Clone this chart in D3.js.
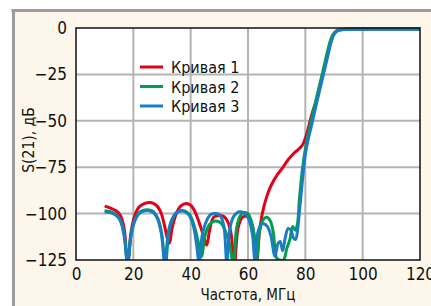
<!DOCTYPE html>
<html><head><meta charset="utf-8">
<script src="https://cdn.jsdelivr.net/npm/d3@7"></script>
<style>
body{margin:0;background:#fff;}
svg{display:block;}
text{font-family:"Liberation Sans Narrow","Arial Narrow","DejaVu Sans Condensed",sans-serif;fill:#111;}
</style></head>
<body><svg id="c" width="431" height="306"></svg>
<script>
const xTicks = [0, 20, 40, 60, 80, 100, 120];
const xTickLabels = ["0", "20", "40", "60", "80", "100", "120"];
const yTicks = [0, -25, -50, -75, -100, -125];
const yTickLabels = ["0", "\u221225", "\u221250", "\u221275", "\u2212100", "\u2212125"];
const seriesNames = ["Кривая 1", "Кривая 2", "Кривая 3"];
const seriesColors = ["#e2001a", "#00a04a", "#1a7cc4"];
const xLabel = "Частота, МГц";
const yLabel = "S(21), дБ";

const f1 = [10,12,14,15.5,16.8,18,19.2,20.5,22,24,26,28,29.5,30.8,31.8,32.6,33.5,35,36.5,38.5,40,41.5,43,44.5,45.6,46.6,48,50,51.5,52.8,54,55.3,56.5,58,59.5,60.8,62,63,64,65,66.5,68,70,72,74,76,77.5,79,80.5,82,83,84,86,88,89,90,91,92,95,100,110,120];
const s1 = [-96,-97,-98.5,-101,-108,-127,-110,-101,-96.5,-94.5,-94,-95.5,-99,-106,-113,-116,-108,-100,-96,-94.5,-95.5,-99,-105,-112,-117,-109,-102,-101,-101.5,-104,-110,-127,-108,-102,-101.5,-103.5,-111,-127,-110,-100,-91,-85,-79.5,-75.5,-71,-67.5,-65.5,-63,-57,-48,-43,-38.5,-26,-13,-7,-3,-1.4,-0.9,-0.6,-0.5,-0.5,-0.5];

const f2 = [10,12,14,15.5,16.8,18,19.2,20.5,22,24,25.5,27,28.5,29.8,31.2,32.4,33.7,35,37,38.5,40,41.5,42.6,43.8,45,46.5,48.5,50.5,52,53.5,54.9,56,57.2,58.5,60,61.5,62.3,63,64,65.2,66.5,67.8,68.8,70,71,72.4,73.5,74.6,75.6,76.5,77.2,78,79,80,81,82,84,86,88,89,90,91,92,95,100,110,120];
const s2 = [-98.5,-99,-100.5,-103.5,-111,-127,-111,-103.5,-99.5,-98,-98,-99,-102.5,-110,-127,-110,-103,-99.5,-98.5,-99,-101.5,-108,-115,-123,-112,-106,-104,-105,-109,-116,-127,-108,-101.5,-99.5,-100,-106,-113,-125,-110,-103.5,-102,-104,-110,-124,-125,-125,-119,-114,-107,-109,-106,-91,-76,-65,-57,-50,-37,-24,-11,-5.5,-2.8,-1.5,-1,-0.7,-0.6,-0.6,-0.6];

const f3 = [10,12,14,15.5,16.8,18,19.2,20.5,22,24,25.5,27,28.5,29.8,31,32.2,33.5,35,37,38,39.5,41,42,43,44,45.5,47,48.5,50,51.5,52.6,53.7,55,57,59,60.5,61.6,62.4,63.3,64.5,65.5,66.8,68,69.4,70.5,71.2,72.1,73,74,75,75.8,76.6,77.2,78,79,80,81,82,84,86,88,89,90,91,92,95,100,110,120];
const s3 = [-99,-99.5,-101,-104,-112,-127,-112,-104,-100,-98.5,-98.5,-99.5,-103,-111,-127,-110,-103,-99.5,-98.5,-99,-101,-107,-116,-127,-112,-104,-100.5,-100,-100.5,-106,-126,-108,-101.5,-99,-100,-104,-112,-125,-111,-106,-105.5,-107,-112,-123,-116,-115,-120,-113,-108,-109,-113,-114,-110,-98,-82,-68,-60,-53.5,-40,-27,-14,-7.5,-3.5,-1.8,-1.1,-0.8,-0.7,-0.7,-0.7];

const series = [
  {f: f1, s: s1},
  {f: f2, s: s2},
  {f: f3, s: s3}
];

const svg = d3.select("#c");
const W = 431, H = 306;
const m = {l: 76, t: 28, r: 420, b: 260};

// frame
svg.append("rect").attr("x", 13).attr("y", 10).attr("width", W - 13).attr("height", H - 10).attr("fill", "#fdf6ea");
svg.append("line").attr("x1", 11.5).attr("x2", W).attr("y1", 10.5).attr("y2", 10.5).attr("stroke", "#9c9c9c").attr("stroke-width", 3);
svg.append("line").attr("x1", 13.5).attr("x2", 13.5).attr("y1", 9).attr("y2", H).attr("stroke", "#9c9c9c").attr("stroke-width", 3);

const x = d3.scaleLinear().domain([0, 120]).range([m.l, m.r]);
const y = d3.scaleLinear().domain([-125, 0]).range([m.b, m.t]);

svg.append("rect").attr("x", m.l).attr("y", m.t).attr("width", m.r - m.l).attr("height", m.b - m.t).attr("fill", "#fff");

// grid
const g = svg.append("g");
g.selectAll("line.vx").data(xTicks.slice(1, -1)).join("line")
  .attr("x1", d => x(d)).attr("x2", d => x(d)).attr("y1", m.t).attr("y2", m.b)
  .attr("stroke", "#b4b4b4").attr("stroke-width", 2);
g.selectAll("line.hy").data(yTicks.slice(1, -1)).join("line")
  .attr("x1", m.l).attr("x2", m.r).attr("y1", d => y(d)).attr("y2", d => y(d))
  .attr("stroke", "#b4b4b4").attr("stroke-width", 2);

// axes labels
const xa = svg.append("g").attr("transform", `translate(0,${m.b})`)
  .call(d3.axisBottom(x).tickValues(xTicks).tickSize(0).tickPadding(8)
    .tickFormat((d, i) => xTickLabels[i]));
xa.select(".domain").remove();
xa.selectAll("text").attr("font-size", 17).attr("font-family", null).attr("fill", "#111");

const ya = svg.append("g").attr("transform", `translate(${m.l},0)`)
  .call(d3.axisLeft(y).tickValues(yTicks).tickSize(0).tickPadding(9)
    .tickFormat((d, i) => yTickLabels[i]));
ya.select(".domain").remove();
ya.selectAll("text").attr("font-size", 17).attr("font-family", null).attr("fill", "#111");

svg.append("text").attr("x", (m.l + m.r) / 2).attr("y", 300).attr("text-anchor", "middle")
  .attr("font-size", 15).text(xLabel);
svg.append("text").attr("transform", `translate(34,${(m.t + m.b) / 2 - 4}) rotate(-90)`)
  .attr("text-anchor", "middle").attr("font-size", 15.5).text(yLabel);

// clip
svg.append("clipPath").attr("id", "clip").append("rect")
  .attr("x", m.l).attr("y", m.t - 3).attr("width", m.r - m.l).attr("height", m.b - m.t + 3);

const line = d3.line().x(d => x(d[0])).y(d => y(d[1])).curve(d3.curveCatmullRom.alpha(0.5));
const pg = svg.append("g").attr("clip-path", "url(#clip)");
series.forEach((sr, i) => {
  const pts = sr.f.map((v, k) => [v, sr.s[k]]);
  pg.append("path").attr("d", line(pts)).attr("fill", "none")
    .attr("stroke", seriesColors[i]).attr("stroke-width", 3).attr("stroke-linejoin", "round");
});

// plot border
svg.append("rect").attr("x", m.l).attr("y", m.t).attr("width", m.r - m.l).attr("height", m.b - m.t)
  .attr("fill", "none").attr("stroke", "#111").attr("stroke-width", 1.5);

// legend
const lg = svg.append("g");
seriesNames.forEach((n, i) => {
  const yy = 67 + i * 19.5;
  lg.append("line").attr("x1", 140).attr("x2", 163).attr("y1", yy).attr("y2", yy)
    .attr("stroke", seriesColors[i]).attr("stroke-width", 3);
  lg.append("text").attr("x", 171).attr("y", yy + 6).attr("font-size", 16).text(n);
});
</script></body></html>
